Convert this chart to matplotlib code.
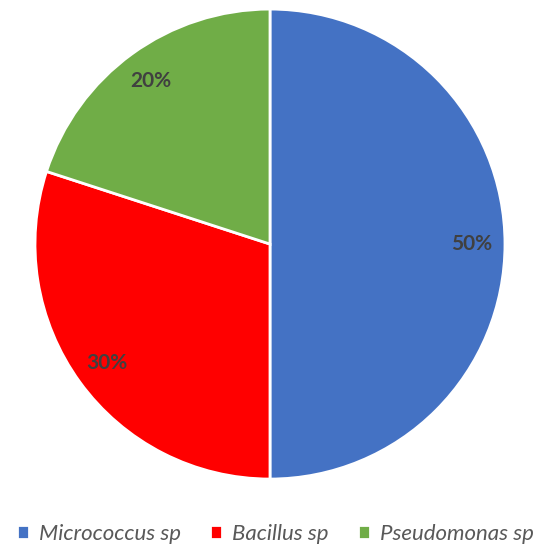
import matplotlib.pyplot as plt

# pie data
labels = ["Micrococcus sp", "Bacillus sp", "Pseudomonas sp"]
shares = [50, 30, 20]
colors = ["#4472C4", "#FF0000", "#70AD47"]

plt.rcParams['font.family'] = ['Lato', 'DejaVu Sans']

fig = plt.figure(figsize=(5.45, 5.5), dpi=100)
ax = fig.add_axes([0.0642, 0.129, 0.8624, 0.8545])

wedges, _, autotexts = ax.pie(
    shares, colors=colors, startangle=90, counterclock=False,
    autopct="%d%%", pctdistance=0.86,
    wedgeprops=dict(edgecolor="white", linewidth=2),
    textprops=dict(color="#404040", fontsize=15, fontweight="bold"),
)
ax.set_aspect("equal")
ax.set_xlim(-1.0, 1.0)
ax.set_ylim(-1.0, 1.0)

leg = fig.legend(wedges, labels, loc="lower center", bbox_to_anchor=(0.505, -0.025),
                 ncol=3, frameon=False, handlelength=0.55, handleheight=0.55,
                 handletextpad=0.45, columnspacing=1.3,
                 prop=dict(style="italic", size=16))
for t in leg.get_texts():
    t.set_color("#595959")

fig.savefig("out.png", dpi=100)
